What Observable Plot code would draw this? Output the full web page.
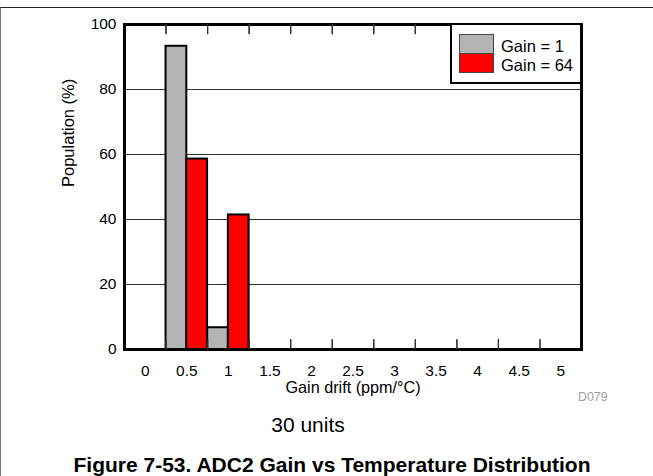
<!DOCTYPE html>
<html>
<head>
<meta charset="utf-8">
<script src="https://cdn.jsdelivr.net/npm/d3@7"></script>
<script src="https://cdn.jsdelivr.net/npm/@observablehq/plot@0.6"></script>
<style>
  html, body { margin: 0; padding: 0; background: #fff; }
  body { font-family: "Liberation Sans", Arial, Helvetica, sans-serif; }
  #page { position: relative; width: 653px; height: 476px; overflow: hidden; background: #fff; }
  #page > svg { display: block; max-width: none; }
  #outer { position: absolute; left: 0; top: 7px; width: 700px; height: 520px; border-top: 1px solid #222; border-left: 1px solid #777; box-sizing: border-box; pointer-events: none; }
  .legend { position: absolute; left: 450px; top: 23px; width: 131.5px; height: 61px; box-sizing: border-box; border: 2.5px solid #000; background: #fff; }
  .sw { position: absolute; box-sizing: border-box; border: 1px solid #444; }
  .lt { position: absolute; font-size: 16.5px; line-height: 16.5px; white-space: nowrap; color: #000; }
  .units { position: absolute; left: 0; width: 616px; text-align: center; top: 414px; font-size: 21px; line-height: 21px; color: #000; }
  .caption { position: absolute; left: 0; width: 664px; text-align: center; top: 454px; font-size: 21px; line-height: 21px; font-weight: bold; color: #000; }
</style>
</head>
<body>
<div id="page"></div>
<script>
// ---- data ----
const bins = [0, 0.5, 1, 1.5, 2, 2.5, 3, 3.5, 4, 4.5, 5];
const binLabels = ["0", "0.5", "1", "1.5", "2", "2.5", "3", "3.5", "4", "4.5", "5"];
const series = ["Gain = 1", "Gain = 64"];
const colors = ["#b4b4b4", "#ff0000"];
const gain1 = [0, 93.3, 6.7, 0, 0, 0, 0, 0, 0, 0, 0];
const gain64 = [0, 58.6, 41.4, 0, 0, 0, 0, 0, 0, 0, 0];
const yTicks = [0, 20, 40, 60, 80, 100];
const gridValues = [20, 40, 60, 80];
const xLabel = "Gain drift (ppm/°C)";
const yLabel = "Population (%)";
const note = "30 units";
const figCaption = "Figure 7-53. ADC2 Gain vs Temperature Distribution";
const code = "D079";

// ---- build table ----
const binStep = bins[1] - bins[0];
const seriesValues = [gain1, gain64];
const rows = [];
series.forEach((s, si) => {
  bins.forEach((b, bi) => {
    rows.push({bin: b, series: s, si: si, value: seriesValues[si][bi]});
  });
});
const barRows = rows.filter(d => d.value > 0);
const boundaries = bins.slice(0, -1).map(b => b + binStep / 2);
const labelOf = new Map(bins.map((b, i) => [b, binLabels[i]]));
const tickLen = 3; // inward tick length in y units
const yMax = yTicks[yTicks.length - 1];

const chart = Plot.plot({
  width: 653,
  height: 405,
  marginLeft: 124,
  marginRight: 72,
  marginTop: 24,
  marginBottom: 56,
  style: {fontFamily: '"Liberation Sans", Arial, sans-serif', background: "transparent", color: "#000", overflow: "visible"},
  x: {domain: [bins[0] - binStep / 2, bins[bins.length - 1] + binStep / 2]},
  y: {domain: [0, yMax]},
  color: {domain: series, range: colors},
  marks: [
    Plot.ruleY(gridValues, {stroke: "#333", strokeWidth: 1}),
    Plot.rectY(barRows, {
      x1: d => d.bin - binStep / 2 + d.si * binStep / 2,
      x2: d => d.bin + d.si * binStep / 2,
      y1: 0,
      y2: "value",
      fill: "series",
      stroke: "#000",
      strokeWidth: 2
    }),
    Plot.axisX(bins, {anchor: "bottom", tickSize: 0, tickPadding: 15, fontSize: 15.5, tickFormat: d => labelOf.get(d), label: null}),
    Plot.axisY(yTicks, {anchor: "left", tickSize: 0, tickPadding: 8, fontSize: 15.5, label: null}),
    Plot.text([yLabel], {text: d => d, frameAnchor: "left", dx: -56, rotate: -90, fontSize: 16.5, lineAnchor: "middle"}),
    Plot.text([xLabel], {text: d => d, frameAnchor: "bottom", dy: 43.5, lineAnchor: "bottom", fontSize: 16.2}),
    Plot.text([code], {text: d => d, frameAnchor: "bottom-right", dx: -3.5, dy: 51, textAnchor: "start", lineAnchor: "bottom", fontSize: 12.4, fill: "#a0a0a0"}),
    Plot.frame({stroke: "#000", strokeWidth: 3}),
    Plot.link(boundaries, {x1: d => d, x2: d => d, y1: 0, y2: tickLen, stroke: "#333", strokeWidth: 1.2}),
    Plot.link(boundaries, {x1: d => d, x2: d => d, y1: yMax - tickLen, y2: yMax, stroke: "#333", strokeWidth: 1.2}),
    Plot.ruleX(boundaries, {stroke: "#333", strokeWidth: 1.2, insetTop: 315}),
    Plot.ruleX(boundaries, {stroke: "#333", strokeWidth: 1.2, insetBottom: 315})
  ]
});

const page = document.getElementById("page");
page.appendChild(chart);
const outer = document.createElement("div");
outer.id = "outer";
page.appendChild(outer);

// ---- legend (colors from the plot's color scale) ----
const colorScale = chart.scale("color");
const leg = document.createElement("div");
leg.className = "legend";
page.appendChild(leg);
const swTops = [34, 53.3];
const txtTops = [37.5, 56.7];
series.forEach((s, i) => {
  const sw = document.createElement("div");
  sw.className = "sw";
  sw.style.left = "459px";
  sw.style.top = swTops[i] + "px";
  sw.style.width = "35.3px";
  sw.style.height = (i === 0 ? 19.8 : 20) + "px";
  sw.style.background = colorScale.apply(s);
  page.appendChild(sw);
  const t = document.createElement("div");
  t.className = "lt";
  t.style.left = "501px";
  t.style.top = txtTops[i] + "px";
  t.textContent = s;
  page.appendChild(t);
});

const unitsDiv = document.createElement("div");
unitsDiv.className = "units";
unitsDiv.textContent = note;
page.appendChild(unitsDiv);
const capDiv = document.createElement("div");
capDiv.className = "caption";
capDiv.textContent = figCaption;
page.appendChild(capDiv);
</script>
</body>
</html>
